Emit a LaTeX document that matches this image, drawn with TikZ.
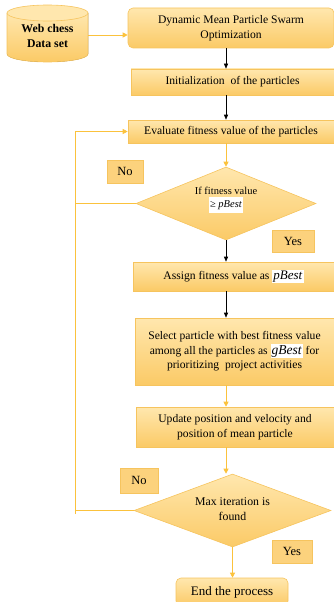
\documentclass[tikz,border=0pt]{standalone}
\usepackage{fontspec}
\setmainfont{Liberation Serif}
\usetikzlibrary{shapes.geometric,arrows.meta}
\definecolor{boxtop}{HTML}{FFE7AE}
\definecolor{boxbot}{HTML}{FBCA66}
\definecolor{boxline}{HTML}{F6C45E}
\definecolor{oline}{HTML}{FBC23C}
\begin{document}
\begin{tikzpicture}[x=1pt,y=-1pt,
  box/.style={draw=boxline, top color=boxtop, bottom color=boxbot, line width=0.6pt,
    inner sep=0pt, align=center, font=\fontsize{11.6}{14.5}\selectfont},
  dia/.style={box, diamond, aspect=2.4},
  tag/.style={draw=boxline, fill=boxbot!85!white, line width=0.6pt, inner sep=0pt,
    font=\fontsize{12.5}{14}\selectfont},
  oarrow/.style={draw=oline, line width=0.8pt, -{Triangle[length=5pt,width=5pt]}},
  barrow/.style={draw=black, line width=0.6pt, -{Triangle[length=5pt,width=4pt]}},
  oln/.style={draw=oline, line width=0.8pt},
]
\setlength{\fboxsep}{1pt}
\useasboundingbox (0,0) rectangle (333,602);
% database cylinder
\fill[top color=boxtop, bottom color=boxbot] (7,13) -- (7,54) arc[start angle=180,end angle=360,x radius=40.5pt,y radius=8pt] -- (88,13) -- cycle;
\draw[boxline, line width=0.6pt] (7,13) -- (7,54) arc[start angle=180,end angle=360,x radius=40.5pt,y radius=8pt] -- (88,13);
\draw[boxline, line width=0.6pt, fill=boxtop] (47.5,13) ellipse[x radius=40.5pt, y radius=8pt];
\node[font=\fontsize{11.8}{14.5}\selectfont\bfseries, align=center] (db) at (47.5,36) {Web chess\\Data set};
\coordinate (dbr) at (88,35);

\coordinate (ax) at (226,0);
\node[box, rounded corners=5pt, minimum width=206pt, minimum height=40pt] (b1) at (231,28) {Dynamic Mean Particle Swarm\\Optimization};
\node[box, minimum width=203pt, minimum height=26pt] (b2) at (232.5,82) {Initialization\ \ of the particles};
\node[box, minimum width=206pt, minimum height=23pt] (b3) at (231,131.5) {Evaluate fitness value of the particles};
\node[dia, minimum width=180pt, minimum height=73pt] (d1) at (226,203.5) {};
\node[font=\fontsize{10.5}{14}\selectfont, align=center] (d1t) at (226,200) {If fitness value\\[-1pt]\colorbox{white}{\strut ≥ \textit{pBest}}};
\node[box, minimum width=201pt, minimum height=29pt] (b4) at (233.5,276.5) {Assign fitness value as \colorbox{white}{\fontsize{13}{14}\selectfont\textit{pBest}}};
\node[box, minimum width=199pt, minimum height=67pt] (b5) at (234.5,351.5) {Select particle with best fitness value\\among all the particles as \colorbox{white}{\fontsize{13.5}{14}\selectfont\textit{gBest}} for\\prioritizing\ \ project activities};
\node[box, minimum width=198pt, minimum height=40pt] (b6) at (235,427) {Update position and velocity and\\position of mean particle};
\node[dia, minimum width=197pt, minimum height=73pt] (d2) at (232.5,510.5) {};
\node[font=\fontsize{11.8}{15}\selectfont, align=center] (d2t) at (232.5,509) {Max iteration is\\found};
\node[box, rounded corners=5pt, minimum width=112pt, minimum height=28pt] (e) at (232,592) {\fontsize{13}{14}\selectfont End the process};

\node[tag, minimum width=36pt, minimum height=23pt] (no1) at (125,171.5) {No};
\node[tag, minimum width=42pt, minimum height=22pt] (yes1) at (293,241) {Yes};
\node[tag, minimum width=38pt, minimum height=25pt] (no2) at (139,480.5) {No};
\node[tag, minimum width=40pt, minimum height=23pt] (yes2) at (292,551.5) {Yes};

% connectors
\draw[oarrow] (dbr) -- (dbr -| b1.west);
\draw[barrow] (b1.south -| ax) -- (b2.north -| ax);
\draw[barrow] (b2.south -| ax) -- (b3.north -| ax);
\draw[oarrow] (b3.south -| ax) -- (d1.north);
\draw[barrow] (d1.south) -- (b4.north -| d1.south);
\draw[barrow] (b4.south -| ax) -- (b5.north -| ax);
\draw[oarrow] (b5.south -| ax) -- (b6.north -| ax);
\draw[oarrow] (b6.south -| ax) -- (d2.north -| ax);
\draw[oarrow] (d2.south) -- (e.north -| d2.south);

\coordinate (lt) at (75,131.5);
\coordinate (lb) at (75,514);
\draw[oln] (d1.west) -- (d1.west -| lt);
\draw[oln] (d2.west) -- (d2.west -| lt);
\draw[oarrow] (lb) -- (lt) -- (b3.west);
\end{tikzpicture}
\end{document}
